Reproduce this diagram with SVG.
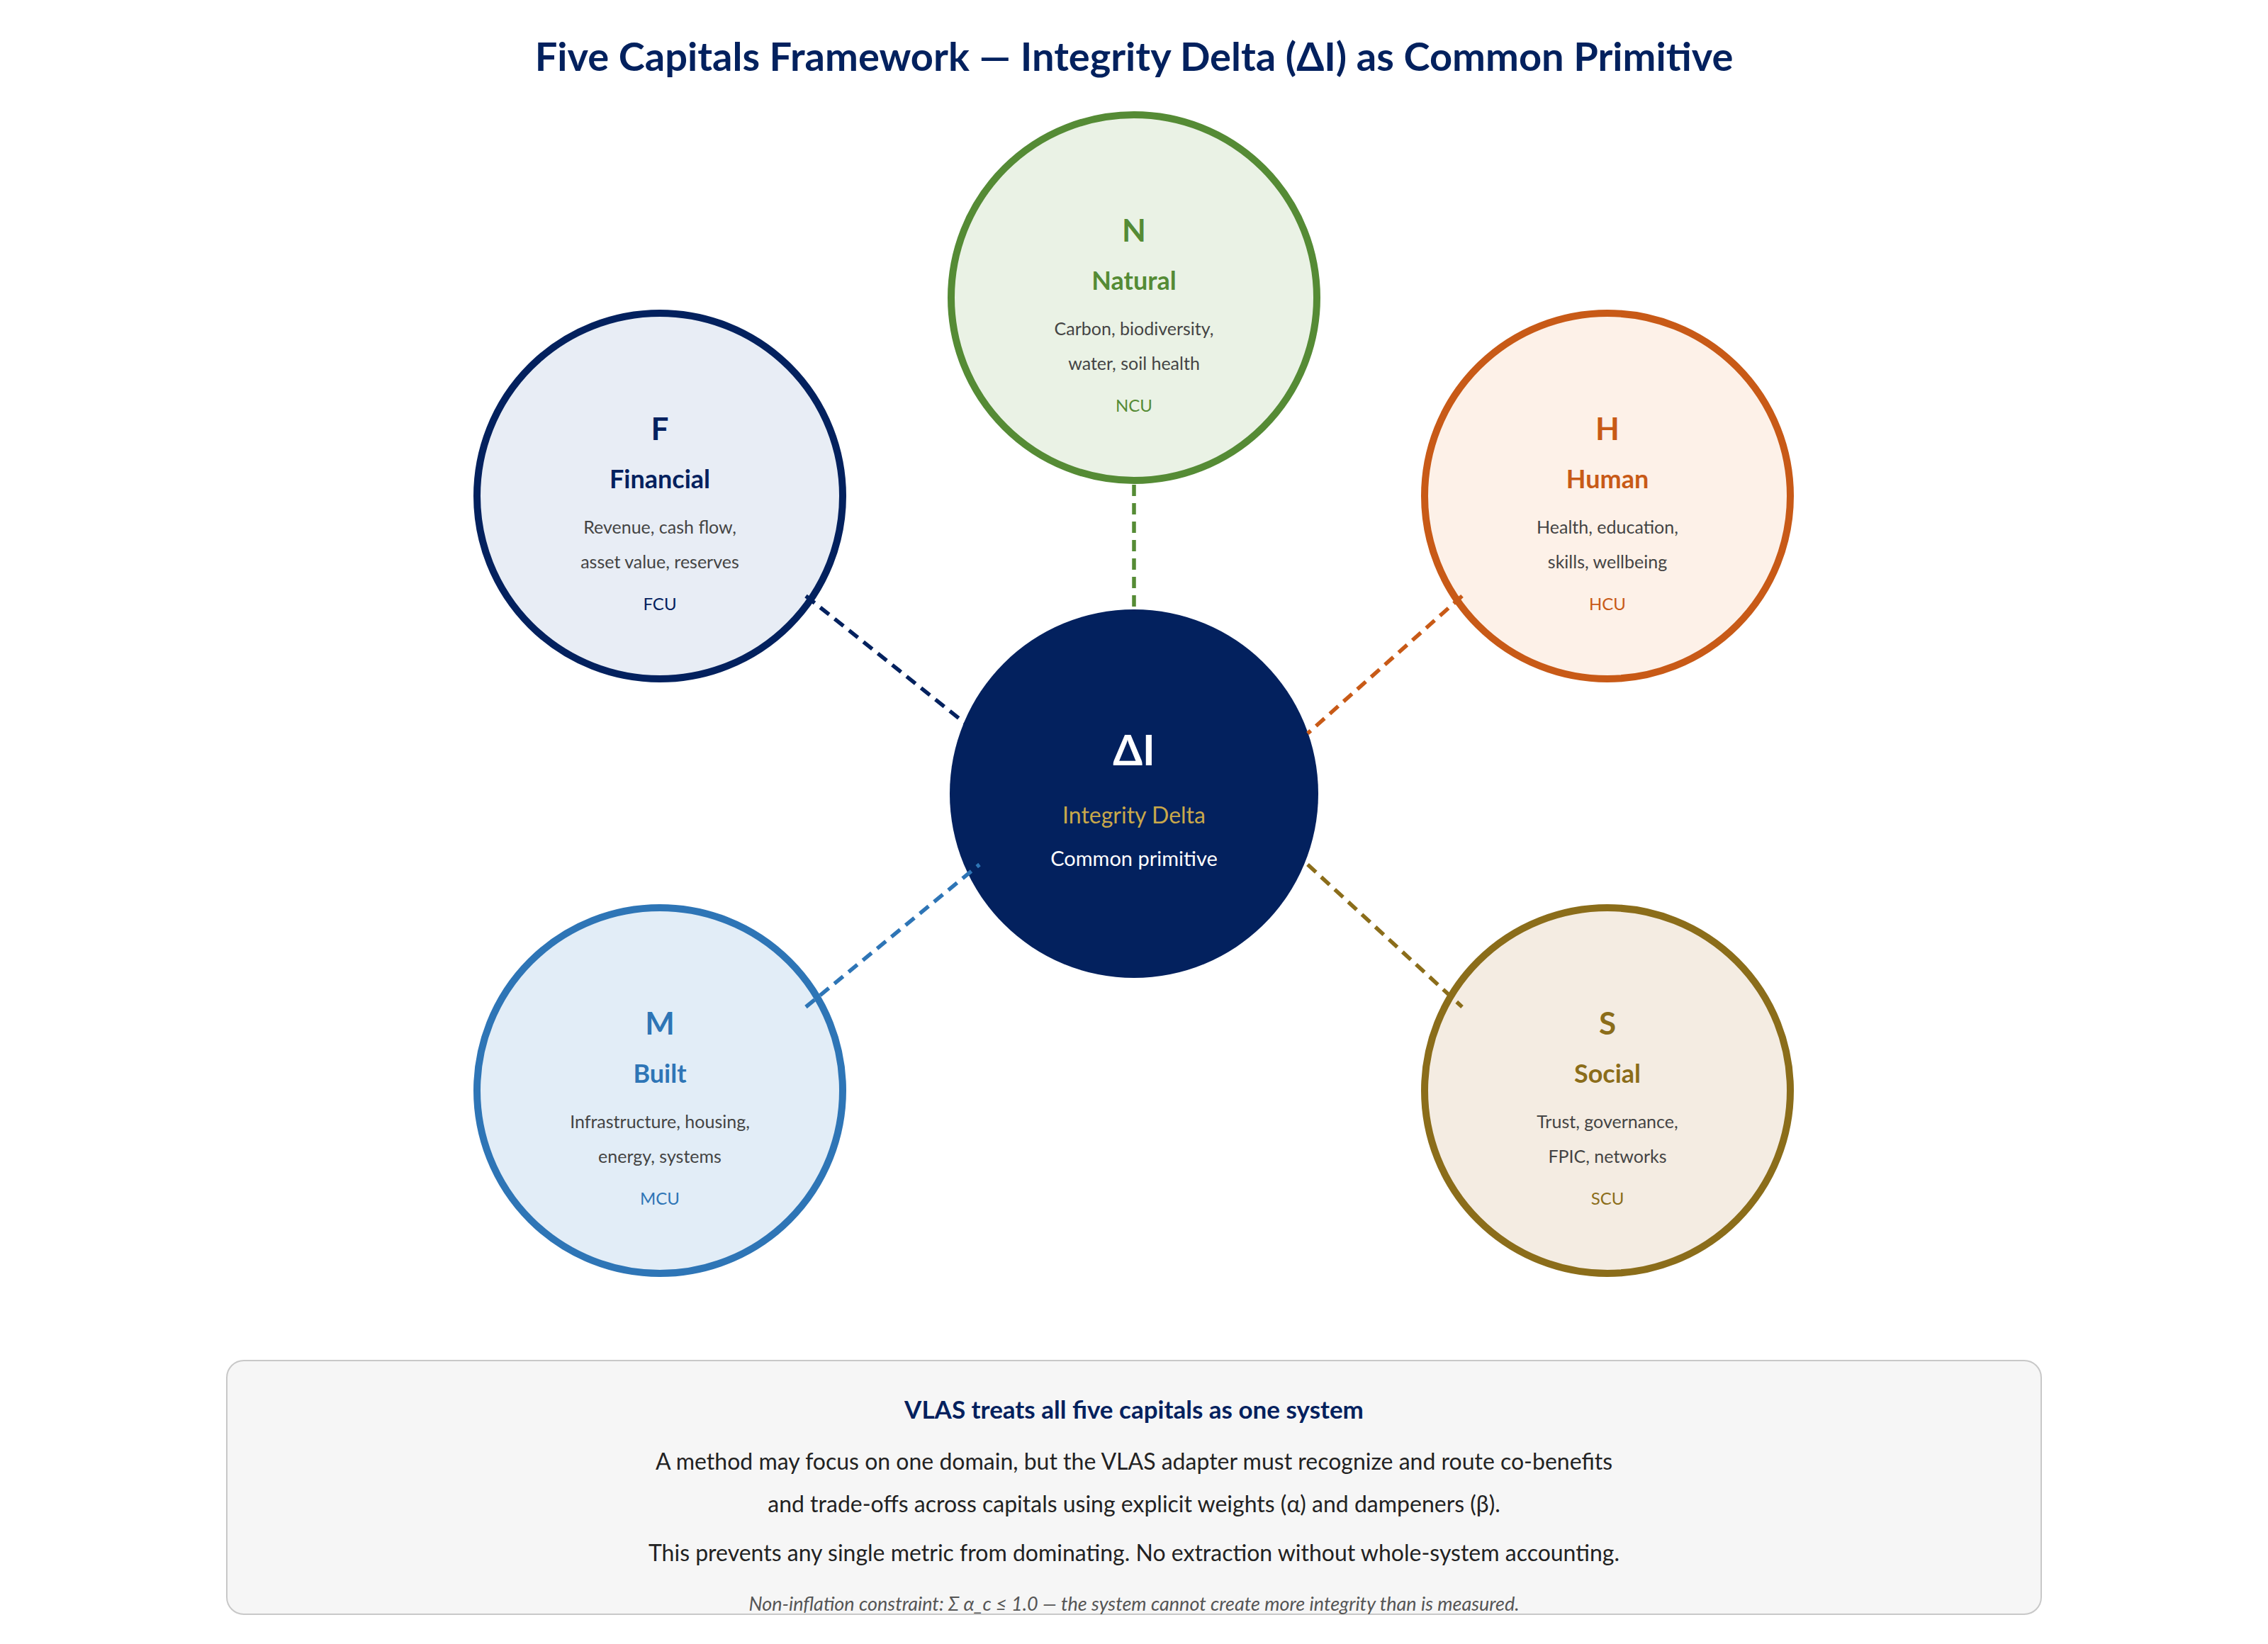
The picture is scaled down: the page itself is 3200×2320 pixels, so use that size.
<svg xmlns="http://www.w3.org/2000/svg" width="3200" height="2320" viewBox="0 0 3200 2320">
<style>
text{font-family:Lato,"Open Sans","Liberation Sans",sans-serif;text-anchor:middle;dominant-baseline:central}
.let{font-size:44px;font-weight:bold}
.nm{font-size:36px;font-weight:bold}
.ds{font-size:25px;fill:#444}
.un{font-size:24px}
.cap{stroke-width:10}
.con{stroke-width:5.5;stroke-dasharray:16 10;fill:none}
</style>
<rect width="3200" height="2320" fill="#fff"/>
<text x="1600" y="78" font-size="56" font-weight="bold" fill="#03215e">Five Capitals Framework — Integrity Delta (ΔI) as Common Primitive</text>
<g id="node-N">
<circle cx="1600" cy="420" r="258" fill="#eaf2e5" stroke="#558b35" class="cap"/>
<text x="1600" y="324" class="let" fill="#558b35">N</text>
<text x="1600" y="395" class="nm" fill="#558b35">Natural</text>
<text x="1600" y="463" class="ds">Carbon, biodiversity,</text>
<text x="1600" y="512" class="ds">water, soil health</text>
<text x="1600" y="571" class="un" fill="#558b35">NCU</text>
</g>
<g id="node-F">
<circle cx="931" cy="700" r="258" fill="#e8edf5" stroke="#03215e" class="cap"/>
<text x="931" y="604" class="let" fill="#03215e">F</text>
<text x="931" y="675" class="nm" fill="#03215e">Financial</text>
<text x="931" y="743" class="ds">Revenue, cash flow,</text>
<text x="931" y="792" class="ds">asset value, reserves</text>
<text x="931" y="851" class="un" fill="#03215e">FCU</text>
</g>
<g id="node-H">
<circle cx="2268" cy="700" r="258" fill="#fdf1e8" stroke="#c85a17" class="cap"/>
<text x="2268" y="604" class="let" fill="#c85a17">H</text>
<text x="2268" y="675" class="nm" fill="#c85a17">Human</text>
<text x="2268" y="743" class="ds">Health, education,</text>
<text x="2268" y="792" class="ds">skills, wellbeing</text>
<text x="2268" y="851" class="un" fill="#c85a17">HCU</text>
</g>
<g id="node-M">
<circle cx="931" cy="1539" r="258" fill="#e2edf7" stroke="#2e75b6" class="cap"/>
<text x="931" y="1443" class="let" fill="#2e75b6">M</text>
<text x="931" y="1514" class="nm" fill="#2e75b6">Built</text>
<text x="931" y="1582" class="ds">Infrastructure, housing,</text>
<text x="931" y="1631" class="ds">energy, systems</text>
<text x="931" y="1690" class="un" fill="#2e75b6">MCU</text>
</g>
<g id="node-S">
<circle cx="2268" cy="1539" r="258" fill="#f4ece2" stroke="#8b6d1a" class="cap"/>
<text x="2268" y="1443" class="let" fill="#8b6d1a">S</text>
<text x="2268" y="1514" class="nm" fill="#8b6d1a">Social</text>
<text x="2268" y="1582" class="ds">Trust, governance,</text>
<text x="2268" y="1631" class="ds">FPIC, networks</text>
<text x="2268" y="1690" class="un" fill="#8b6d1a">SCU</text>
</g>
<g id="node-center">
<circle cx="1600" cy="1120" r="260" fill="#03215e"/>
<text x="1600" y="1057" font-size="60" font-weight="bold" fill="#fff">ΔI</text>
<text x="1600" y="1149" font-size="32" fill="#c9a84a">Integrity Delta</text>
<text x="1600" y="1210" font-size="29" fill="#fff">Common primitive</text>
</g>
<g id="connectors">
<line x1="1600" y1="684" x2="1600" y2="861" stroke="#558b35" class="con"/>
<line x1="1137" y1="841" x2="1361" y2="1020" stroke="#03215e" class="con"/>
<line x1="2063" y1="841" x2="1845" y2="1035" stroke="#c85a17" class="con"/>
<line x1="1137" y1="1421" x2="1382" y2="1220" stroke="#2e75b6" class="con"/>
<line x1="1845" y1="1220" x2="2063" y2="1421" stroke="#8b6d1a" class="con"/>
</g>
<g id="note">
<rect x="320" y="1920" width="2560" height="358" rx="24" fill="#f6f6f6" stroke="#c8c8c8" stroke-width="2"/>
<text x="1600" y="1988" font-size="35" font-weight="bold" fill="#03215e">VLAS treats all five capitals as one system</text>
<text x="1600" y="2061" font-size="32" fill="#222">A method may focus on one domain, but the VLAS adapter must recognize and route co-benefits</text>
<text x="1600" y="2121" font-size="32" fill="#222">and trade-offs across capitals using explicit weights (α) and dampeners (β).</text>
<text x="1600" y="2190" font-size="32" fill="#222">This prevents any single metric from dominating. No extraction without whole-system accounting.</text>
<text x="1600" y="2262" font-size="27" font-style="italic" fill="#555">Non-inflation constraint: Σ α_c ≤ 1.0 — the system cannot create more integrity than is measured.</text>
</g>
</svg>
